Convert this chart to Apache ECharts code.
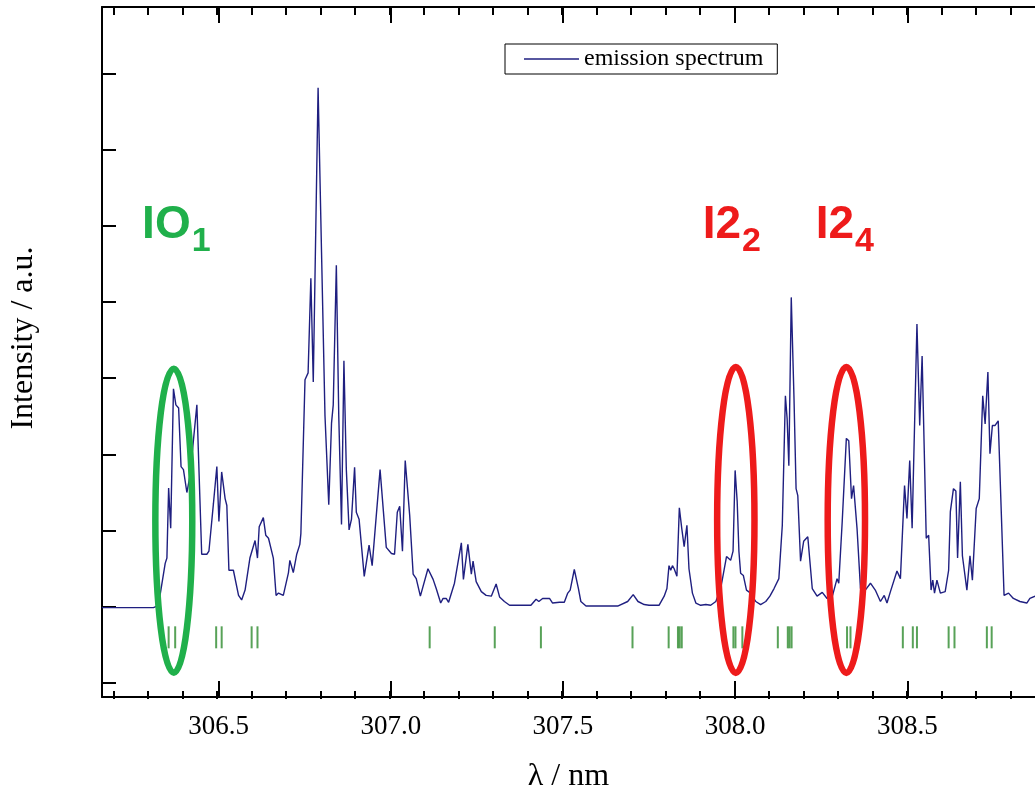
<!DOCTYPE html>
<html><head><meta charset="utf-8">
<script src="https://cdn.jsdelivr.net/npm/echarts@6/dist/echarts.min.js"></script>
<style>html,body{margin:0;padding:0;background:#fff}#chart{width:1035px;height:798px}</style>
</head><body><div id="chart"></div>
<script>
// ---- data ----
const wavelength = [
306.161,306.311,306.321,306.330,306.345,306.350,306.355,306.358,306.361,306.369,
306.376,306.384,306.391,306.398,306.408,306.417,306.437,306.451,306.466,306.472,
306.485,306.495,306.501,306.509,306.519,306.524,306.530,306.543,306.558,306.567,
306.577,306.591,306.606,306.613,306.618,306.630,306.637,306.645,306.659,306.667,
306.674,306.688,306.693,306.703,306.707,306.717,306.727,306.736,306.739,306.751,
306.760,306.768,306.775,306.789,306.799,306.809,306.820,306.828,306.833,306.842,
306.849,306.857,306.864,306.871,306.879,306.886,306.895,306.900,306.908,306.923,
306.937,306.946,306.969,306.987,307.002,307.011,307.019,307.026,307.034,307.042,
307.055,307.065,307.074,307.086,307.108,307.123,307.132,307.145,307.152,307.161,
307.168,307.185,307.205,307.211,307.224,307.234,307.239,307.248,307.263,307.277,
307.292,307.306,307.316,307.330,307.345,307.407,307.422,307.430,307.441,307.461,
307.470,307.490,307.504,307.514,307.521,307.533,307.545,307.552,307.567,307.659,
307.688,307.704,307.718,307.736,307.750,307.779,307.794,307.802,307.808,307.813,
307.818,307.823,307.831,307.838,307.845,307.852,307.860,307.866,307.876,307.886,
307.900,307.915,307.929,307.944,307.958,307.975,307.987,307.994,308.000,308.006,
308.011,308.016,308.024,308.033,308.045,308.060,308.074,308.089,308.101,308.113,
308.127,308.137,308.146,308.151,308.156,308.163,308.171,308.177,308.182,308.190,
308.199,308.211,308.224,308.238,308.253,308.267,308.283,308.296,308.301,308.311,
308.323,308.330,308.338,308.344,308.354,308.364,308.378,308.393,308.407,308.422,
308.433,308.441,308.451,308.470,308.480,308.492,308.499,308.507,308.514,308.528,
308.536,308.543,308.555,308.562,308.569,308.574,308.579,308.586,308.596,308.610,
308.620,308.625,308.634,308.641,308.646,308.654,308.660,308.673,308.682,308.689,
308.700,308.709,308.719,308.726,308.734,308.740,308.747,308.755,308.764,308.781,
308.794,308.808,308.827,308.847,308.856,308.871];
const intensity = [
0.99,0.99,1.01,1.15,1.57,1.64,2.56,2.29,2.03,3.86,
3.65,3.61,2.84,2.80,2.50,2.72,3.65,1.69,1.69,1.73,
2.35,2.84,2.12,2.77,2.42,2.33,1.48,1.48,1.15,1.09,
1.22,1.64,1.87,1.64,2.05,2.17,1.94,1.90,1.64,1.15,
1.18,1.15,1.13,1.45,1.61,1.45,1.69,1.82,1.96,3.98,
4.07,5.31,3.95,7.81,5.65,3.51,2.34,3.41,3.65,5.48,
3.51,2.08,4.23,2.80,2.01,2.15,2.83,2.24,2.15,1.40,
1.81,1.54,2.80,1.78,1.70,1.69,2.24,2.32,1.73,2.92,
2.20,1.43,1.37,1.14,1.50,1.36,1.24,1.05,1.11,1.11,
1.06,1.31,1.84,1.36,1.82,1.43,1.60,1.33,1.20,1.15,
1.14,1.30,1.13,1.07,1.02,1.02,1.10,1.07,1.11,1.11,
1.05,1.06,1.06,1.18,1.22,1.49,1.24,1.07,1.01,1.01,
1.07,1.16,1.07,1.03,1.02,1.02,1.14,1.24,1.54,1.48,
1.54,1.50,1.40,2.30,2.03,1.79,2.07,1.50,1.18,1.05,
1.02,1.03,1.02,1.07,1.24,1.66,1.61,1.73,2.79,2.38,
1.73,1.44,1.41,1.22,1.18,1.07,1.03,1.07,1.14,1.24,
1.37,2.07,3.77,3.47,2.85,5.06,3.73,2.55,2.46,1.60,
1.86,1.92,1.24,1.14,1.19,1.11,1.15,1.37,1.31,2.12,
3.21,3.18,2.42,2.59,2.03,1.24,1.22,1.31,1.22,1.07,
1.15,1.05,1.20,1.47,1.37,2.59,2.16,2.92,2.03,4.71,
3.38,4.29,1.90,1.94,1.22,1.35,1.18,1.35,1.18,1.20,
1.48,2.25,2.55,2.52,1.64,2.64,1.67,1.22,1.67,1.35,
2.29,2.42,3.77,3.40,4.08,3.01,3.38,3.38,3.44,1.15,
1.18,1.11,1.07,1.05,1.11,1.14];
// reference transition lines (green sticks)
const lineMarks = [306.355,306.374,306.493,306.509,306.596,306.613,307.113,307.302,307.436,307.702,
307.807,307.834,307.839,307.845,307.995,308.001,308.021,308.124,308.153,308.158,
308.164,308.325,308.335,308.487,308.516,308.528,308.620,308.637,308.731,308.745];
const majorTicks = [306.5,307.0,307.5,308.0,308.5];
const minorTicks = [306.2,306.3,306.4,306.5,306.6,306.7,306.8,306.9,307.0,307.1,307.2,307.3,307.4,307.5,
307.6,307.7,307.8,307.9,308.0,308.1,308.2,308.3,308.4,308.5,308.6,308.7,308.8];
const yTicks = [0,1,2,3,4,5,6,7,8];
const seriesName = 'emission spectrum';

// ---- annotations ----
const X_MIN = 306.1615, X_MAX = 308.8708, Y_MIN = -0.183, Y_MAX = 8.87;
const MARK_LEVEL = 0.60;
const GREEN = '#20b04b', RED = '#ee1b1b', NAVY = '#1f1f80';
const highlights = [
  {label:'IO', sub:'1', color:GREEN, center:306.370, level:2.13, halfW:0.0536, halfH:1.995, textAt:306.278, textLevel:6.01},
  {label:'I2', sub:'2', color:RED, center:308.002, level:2.14, halfW:0.0542, halfH:2.008, textAt:307.906, textLevel:6.01},
  {label:'I2', sub:'4', color:RED, center:308.323, level:2.14, halfW:0.0542, halfH:2.008, textAt:308.234, textLevel:6.01}
];

const SERIF = '"Liberation Serif","Times New Roman",serif';
const SANS = '"Liberation Sans",Arial,sans-serif';
const mctx = document.createElement('canvas').getContext('2d');
function textWidth(t, font){ mctx.font = font; return mctx.measureText(t).width; }

const axisLine = {show:true, onZero:false, lineStyle:{color:'#000', width:2}};
const tickStyle = {color:'#000', width:2};

const chart = echarts.init(document.getElementById('chart'), null, {renderer:'canvas'});
chart.setOption({
  animation:false,
  backgroundColor:'#fff',
  grid:[
    {left:100, right:0, top:7, bottom:99},
    {left:100, right:0, top:7, bottom:99}
  ],
  legend:{
    data:[{name:seriesName, icon:'rect', itemStyle:{color:NAVY}}],
    left:505, top:44, itemWidth:55, itemHeight:1.5,
    padding:[3,14,3,19], borderColor:'#000', borderWidth:1, borderRadius:0,
    backgroundColor:'#fff',
    textStyle:{fontFamily:SERIF, fontSize:24, color:'#000'}
  },
  xAxis:[
    {gridIndex:0, type:'value', position:'bottom', min:X_MIN, max:X_MAX,
     axisLine:axisLine,
     axisTick:{show:true, inside:true, length:16, customValues:majorTicks, lineStyle:tickStyle},
     axisLabel:{show:true, customValues:majorTicks, formatter:v=>Number(v).toFixed(1), margin:16,
       color:'#000', fontFamily:SERIF, fontSize:27},
     splitLine:{show:false},
     name:'λ / nm', nameLocation:'middle', nameGap:64,
     nameTextStyle:{fontFamily:SERIF, fontSize:32, color:'#000'}},
    {gridIndex:0, type:'value', position:'top', min:X_MIN, max:X_MAX,
     axisLine:axisLine,
     axisTick:{show:true, inside:true, length:16, customValues:majorTicks, lineStyle:tickStyle},
     axisLabel:{show:false}, splitLine:{show:false}},
    {gridIndex:1, type:'value', position:'bottom', min:X_MIN, max:X_MAX,
     axisLine:{show:false, onZero:false},
     axisTick:{show:true, inside:true, length:8, customValues:minorTicks, lineStyle:tickStyle},
     axisLabel:{show:false}, splitLine:{show:false}},
    {gridIndex:1, type:'value', position:'top', min:X_MIN, max:X_MAX,
     axisLine:{show:false, onZero:false},
     axisTick:{show:true, inside:true, length:8, customValues:minorTicks, lineStyle:tickStyle},
     axisLabel:{show:false}, splitLine:{show:false}}
  ],
  yAxis:[
    {gridIndex:0, type:'value', position:'left', min:Y_MIN, max:Y_MAX,
     axisLine:axisLine,
     axisTick:{show:true, inside:true, length:14, customValues:yTicks, lineStyle:tickStyle},
     axisLabel:{show:false}, splitLine:{show:false},
     name:'Intensity / a.u.', nameLocation:'middle', nameGap:62, nameRotate:90,
     nameTextStyle:{fontFamily:SERIF, fontSize:32, color:'#000', padding:[0,0,0,28]}},
    {gridIndex:1, type:'value', min:Y_MIN, max:Y_MAX, show:false}
  ],
  series:[
    {name:seriesName, type:'line', xAxisIndex:0, yAxisIndex:0,
     data:wavelength.map((w,i)=>[w, intensity[i]]),
     symbol:'none', showSymbol:false, smooth:false,
     lineStyle:{color:NAVY, width:1.4}, itemStyle:{color:NAVY}, z:2},
    {name:'lines', type:'scatter', xAxisIndex:0, yAxisIndex:0,
     data:lineMarks.map(w=>[w, MARK_LEVEL]),
     symbol:'rect', symbolSize:[2,22], itemStyle:{color:'#2e8b2e'}, silent:true, z:3},
    {name:'ellipses', type:'custom', xAxisIndex:0, yAxisIndex:0, silent:true, z:5,
     data:highlights.map(h=>[h.center, h.level]),
     renderItem:(params, api)=>{
       const h = highlights[params.dataIndex];
       const c = api.coord([h.center, h.level]);
       const s = api.size([h.halfW, h.halfH]);
       return {type:'ellipse', shape:{cx:c[0], cy:c[1], rx:s[0], ry:s[1]},
               style:{fill:'none', stroke:h.color, lineWidth:6.5}};
     }},
    {name:'labels', type:'custom', xAxisIndex:0, yAxisIndex:0, silent:true, z:6,
     data:highlights.map(h=>[h.textAt, h.textLevel]),
     renderItem:(params, api)=>{
       const h = highlights[params.dataIndex];
       const p = api.coord([h.textAt, h.textLevel]);
       const mainFont = 'bold 46px ' + SANS;
       const subFont = 'bold 34px ' + SANS;
       const w = textWidth(h.label, mainFont);
       return {type:'group', children:[
         {type:'text', x:p[0], y:p[1], style:{text:h.label, font:mainFont, fill:h.color, align:'left', verticalAlign:'middle'}},
         {type:'text', x:p[0]+w+1, y:p[1]+17, style:{text:h.sub, font:subFont, fill:h.color, align:'left', verticalAlign:'middle'}}
       ]};
     }}
  ]
});
</script>
</body></html>
